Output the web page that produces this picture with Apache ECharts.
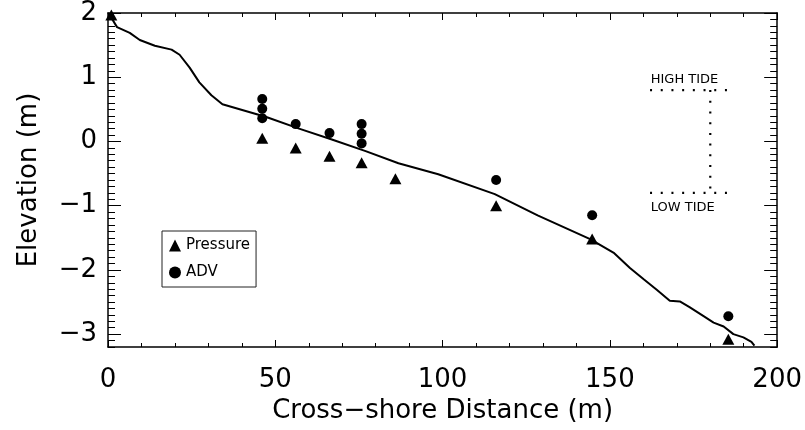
<!DOCTYPE html>
<html>
<head>
<meta charset="utf-8">
<script src="https://cdn.jsdelivr.net/npm/echarts@6/dist/echarts.min.js"></script>
<style>
html,body{margin:0;padding:0;background:#fff;}
#chart{width:805px;height:430px;}
</style>
</head>
<body>
<div id="chart"></div>
<script>
// Beach profile (cross-shore distance m, elevation m)
var profileX = [0.5, 2.7, 6.5, 9.5, 14.0, 19.0, 21.4, 24.4, 27.3, 30.9, 34.2, 47.3, 57.1, 66.9, 77.0, 86.8, 98.7, 115.6, 128.4, 144.1, 151.3, 156.0, 160.2, 164.0, 167.9, 170.9, 173.8, 178.0, 181.0, 184.0, 186.9, 189.9, 192.3, 193.2];
var profileY = [1.97, 1.78, 1.69, 1.58, 1.49, 1.43, 1.35, 1.15, 0.92, 0.72, 0.58, 0.38, 0.20, 0.03, -0.15, -0.34, -0.51, -0.82, -1.15, -1.52, -1.74, -1.97, -2.15, -2.31, -2.48, -2.49, -2.58, -2.72, -2.82, -2.88, -3.00, -3.05, -3.12, -3.18];

// Pressure sensors
var pressureX = [1.0, 46.1, 56.1, 66.2, 75.8, 85.9, 116.0, 144.7, 185.4];
var pressureY = [1.97, 0.05, -0.10, -0.23, -0.33, -0.58, -1.00, -1.52, -3.08];

// ADV sensors
var advX = [46.1, 46.1, 46.1, 56.1, 66.2, 75.8, 75.8, 75.8, 116.0, 144.7, 185.4];
var advY = [0.66, 0.51, 0.36, 0.27, 0.13, 0.27, 0.12, -0.03, -0.60, -1.15, -2.72];

// Tide range annotation
var tideLineX = [162, 185];
var highTide = 0.8;
var lowTide = -0.8;
var tideBarX = 180;
var tideLabels = ['HIGH TIDE', 'LOW TIDE'];
var tideLabelX = 162.2;
var tideLabelY = [0.97, -1.03];

// Axis ticks
var xMin = 0, xMax = 200, xStep = 50;
var yMin = -3.2, yMax = 2;
var yMajor = [-3, -2, -1, 0, 1, 2];
var yMinor = [];
for (var k = -32; k <= 20; k++) { if (k % 10 !== 0) yMinor.push(k / 10); }

function zip(a, b) { return a.map(function (v, i) { return [v, b[i]]; }); }

var FONT = 'DejaVu Sans';
var BLACK = '#000';

function yLabelFmt(v) {
  return v < 0 ? '\u2212' + Math.abs(v) : String(v);
}

function yAxisDef(pos, major, showLabel, showLine, withName) {
  var a = {
    type: 'value', min: yMin, max: yMax, position: pos,
    axisLine: { show: showLine, onZero: false, lineStyle: { color: BLACK, width: 1.5 } },
    axisTick: { show: true, inside: true, length: major ? 13 : 7, customValues: major ? yMajor : yMinor, lineStyle: { color: BLACK, width: 1 } },
    axisLabel: { show: showLabel, customValues: yMajor, formatter: yLabelFmt, color: BLACK, fontFamily: FONT, fontSize: 26, margin: 11 },
    splitLine: { show: false }
  };
  if (withName) {
    a.name = 'Elevation (m)';
    a.nameLocation = 'middle';
    a.nameGap = 66;
    a.nameTextStyle = { color: BLACK, fontFamily: FONT, fontSize: 26 };
  }
  return a;
}

function xAxisDef(pos, showLabel, withName) {
  var a = {
    type: 'value', min: xMin, max: xMax, interval: xStep, position: pos,
    axisLine: { show: true, onZero: false, lineStyle: { color: BLACK, width: 1.5 } },
    axisTick: { show: true, inside: true, length: 7, lineStyle: { color: BLACK, width: 1 } },
    minorTick: { show: true, splitNumber: 5, length: 4, lineStyle: { color: BLACK, width: 1 } },
    axisLabel: { show: showLabel, color: BLACK, fontFamily: FONT, fontSize: 26, margin: 20 },
    splitLine: { show: false }, minorSplitLine: { show: false }
  };
  if (withName) {
    a.name = 'Cross\u2212shore Distance (m)';
    a.nameLocation = 'middle';
    a.nameGap = 50;
    a.nameTextStyle = { color: BLACK, fontFamily: FONT, fontSize: 26 };
  }
  return a;
}

var chart = echarts.init(document.getElementById('chart'), null, { renderer: 'canvas' });
var dotted = { color: BLACK, width: 2.2, type: [2, 8.7] };

chart.setOption({
  animation: false,
  backgroundColor: '#fff',
  textStyle: { fontFamily: FONT },
  grid: { left: 108, right: 24, top: 11, bottom: 83, containLabel: false },
  legend: {
    orient: 'vertical', left: 162, top: 231,
    data: ['Pressure', 'ADV'],
    borderColor: '#222', borderWidth: 1,
    padding: [7, 6, 7, 7], itemGap: 12, itemWidth: 12, itemHeight: 12,
    textStyle: { color: BLACK, fontFamily: FONT, fontSize: 15 },
    backgroundColor: '#fff'
  },
  xAxis: [xAxisDef('bottom', true, true), xAxisDef('top', false, false)],
  yAxis: [
    yAxisDef('left', true, true, true, true),
    yAxisDef('left', false, false, false, false),
    yAxisDef('right', true, false, true, false),
    yAxisDef('right', false, false, false, false)
  ],
  series: [
    { name: 'Profile', type: 'line', data: zip(profileX, profileY), symbol: 'none', silent: true,
      lineStyle: { color: BLACK, width: 2 }, z: 2 },
    { name: 'Pressure', type: 'scatter', data: zip(pressureX, pressureY), symbol: 'triangle', symbolSize: [12, 11],
      itemStyle: { color: BLACK, opacity: 1 }, z: 3 },
    { name: 'ADV', type: 'scatter', data: zip(advX, advY), symbol: 'circle', symbolSize: 10,
      itemStyle: { color: BLACK, opacity: 1 }, z: 3 },
    { name: 'High', type: 'line', data: tideLineX.map(function (x) { return [x, highTide]; }), symbol: 'none', lineStyle: dotted, silent: true },
    { name: 'Low', type: 'line', data: tideLineX.map(function (x) { return [x, lowTide]; }), symbol: 'none', lineStyle: dotted, silent: true },
    { name: 'Range', type: 'line', data: [[tideBarX, highTide], [tideBarX, lowTide]], symbol: 'none', lineStyle: dotted, silent: true },
    { name: 'TideText', type: 'scatter', symbolSize: 0, silent: true,
      itemStyle: { color: BLACK, opacity: 1 },
      data: tideLabels.map(function (t, i) { return { value: [tideLabelX, tideLabelY[i]], name: t }; }),
      label: { show: true, position: 'right', distance: 0, formatter: function (p) { return p.name; },
        color: BLACK, opacity: 1, fontFamily: FONT, fontSize: 13 } }
  ]
});
</script>
</body>
</html>
